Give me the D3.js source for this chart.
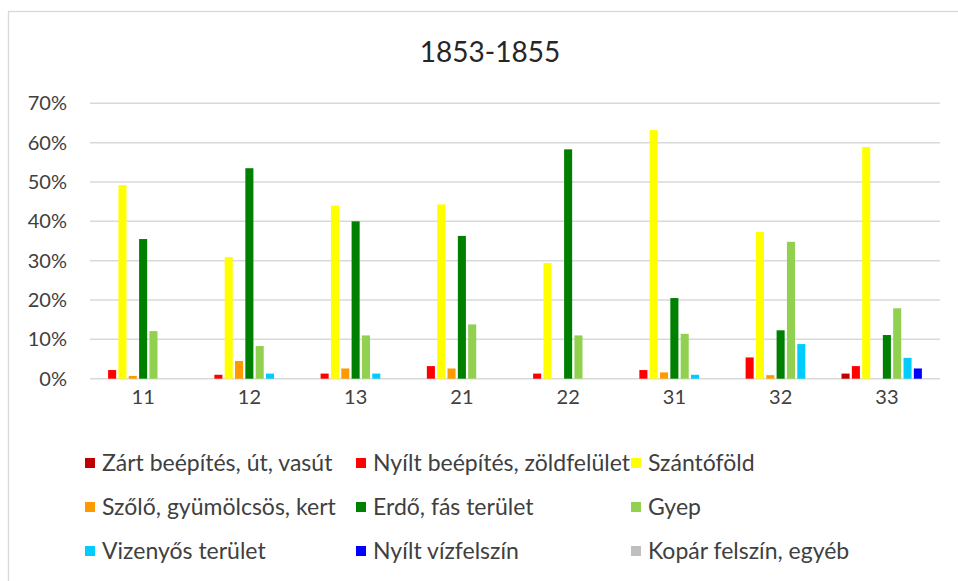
<!DOCTYPE html>
<html>
<head>
<meta charset="utf-8">
<script src="https://cdn.jsdelivr.net/npm/d3@7/dist/d3.min.js"></script>
<style>
  html, body { margin: 0; padding: 0; background: #fff; }
  svg { display: block; font-family: Lato, "Liberation Sans", sans-serif; }
</style>
</head>
<body>
<svg id="chart" width="958" height="581"></svg>
<script>
// Land-use shares per area code, 1853-1855
const categories = ["11", "12", "13", "21", "22", "31", "32", "33"];

const seriesNames = [
  "Zárt beépítés, út, vasút",
  "Nyílt beépítés, zöldfelület",
  "Szántóföld",
  "Szőlő, gyümölcsös, kert",
  "Erdő, fás terület",
  "Gyep",
  "Vizenyős terület",
  "Nyílt vízfelszín",
  "Kopár felszín, egyéb"
];

const seriesColors = ["#C00000", "#FF0000", "#FFFF00", "#FF9900", "#008000", "#92D050", "#00CCFF", "#0000FF", "#BFBFBF"];

// one array per series, values in the order of `categories`
const zartBeepites   = [0.000, 0.000, 0.000, 0.000, 0.000, 0.000, 0.000, 0.013];
const nyiltBeepites  = [0.022, 0.010, 0.013, 0.032, 0.013, 0.022, 0.054, 0.032];
const szantofold     = [0.492, 0.309, 0.440, 0.443, 0.294, 0.632, 0.373, 0.589];
const szolo          = [0.007, 0.045, 0.026, 0.026, 0.000, 0.016, 0.009, 0.000];
const erdo           = [0.355, 0.535, 0.400, 0.363, 0.583, 0.205, 0.123, 0.111];
const gyep           = [0.121, 0.083, 0.110, 0.138, 0.110, 0.114, 0.348, 0.179];
const vizenyos       = [0.000, 0.013, 0.013, 0.000, 0.000, 0.010, 0.088, 0.053];
const nyiltViz       = [0.000, 0.000, 0.000, 0.000, 0.000, 0.000, 0.000, 0.026];
const kopar          = [0.000, 0.000, 0.000, 0.000, 0.000, 0.000, 0.000, 0.000];

const seriesValues = [zartBeepites, nyiltBeepites, szantofold, szolo, erdo, gyep, vizenyos, nyiltViz, kopar];

const yTicks = [0, 0.1, 0.2, 0.3, 0.4, 0.5, 0.6, 0.7];
const titleText = "1853-1855";

const svg = d3.select("#chart");

// chart area frame
svg.append("rect")
  .attr("x", 8.5).attr("y", 11.5)
  .attr("width", 1000).attr("height", 1000)
  .attr("fill", "#fff")
  .attr("stroke", "#D9D9D9")
  .attr("stroke-width", 1.3);

const plot = { left: 90, right: 940, top: 103.3, bottom: 378.7 };

const x0 = d3.scaleBand()
  .domain(categories)
  .range([plot.left, plot.right])
  .paddingInner(0.125)
  .paddingOuter(0.0625);

const x1 = d3.scaleBand()
  .domain(d3.range(seriesNames.length))
  .range([0, x0.bandwidth()])
  .paddingInner(0.22)
  .paddingOuter(0.11);

const y = d3.scaleLinear()
  .domain([0, 0.7])
  .range([plot.bottom, plot.top]);

// title
svg.append("text")
  .attr("x", 490).attr("y", 62)
  .attr("text-anchor", "middle")
  .attr("font-size", 28)
  .attr("fill", "#262626")
  .text(titleText);

// gridlines
svg.append("g")
  .selectAll("line")
  .data(yTicks)
  .join("line")
  .attr("x1", plot.left).attr("x2", plot.right)
  .attr("y1", d => y(d)).attr("y2", d => y(d))
  .attr("stroke", "#D9D9D9")
  .attr("stroke-width", 1.5);

// y axis labels
const yAxis = d3.axisLeft(y)
  .tickValues(yTicks)
  .tickFormat(d3.format(".0%"))
  .tickSize(0)
  .tickPadding(0);

svg.append("g")
  .attr("transform", `translate(67,0)`)
  .call(yAxis)
  .call(g => g.select(".domain").remove())
  .call(g => g.selectAll("text")
    .attr("font-family", "Lato, 'Liberation Sans', sans-serif")
    .attr("font-size", 20)
    .attr("fill", "#404040"));

// x axis labels
const xAxis = d3.axisBottom(x0).tickSize(0).tickPadding(0);
svg.append("g")
  .attr("transform", `translate(0,${plot.bottom + 11})`)
  .call(xAxis)
  .call(g => g.select(".domain").remove())
  .call(g => g.selectAll("text")
    .attr("font-family", "Lato, 'Liberation Sans', sans-serif")
    .attr("font-size", 20)
    .attr("fill", "#404040"));

// bars
const groups = svg.append("g")
  .selectAll("g")
  .data(categories)
  .join("g")
  .attr("transform", d => `translate(${x0(d)},0)`);

groups.selectAll("rect")
  .data((cat, ci) => seriesValues.map((vals, si) => ({ si, v: vals[ci] })).filter(d => d.v > 0))
  .join("rect")
  .attr("x", d => x1(d.si))
  .attr("width", x1.bandwidth())
  .attr("y", d => y(d.v))
  .attr("height", d => y(0) - y(d.v))
  .attr("fill", d => seriesColors[d.si]);

// legend: three columns, three rows
const legendCols = [85, 356, 631];
const legendRows = [463, 507, 551];

const legend = svg.append("g")
  .selectAll("g")
  .data(seriesNames)
  .join("g")
  .attr("transform", (d, i) => `translate(${legendCols[i % 3]},${legendRows[Math.floor(i / 3)]})`);

legend.append("rect")
  .attr("x", 0).attr("y", -5)
  .attr("width", 10).attr("height", 10)
  .attr("fill", (d, i) => seriesColors[i]);

legend.append("text")
  .attr("x", 17).attr("y", 0)
  .attr("dy", "0.35em")
  .attr("font-size", 23)
  .attr("fill", "#404040")
  .text(d => d);
</script>
</body>
</html>
